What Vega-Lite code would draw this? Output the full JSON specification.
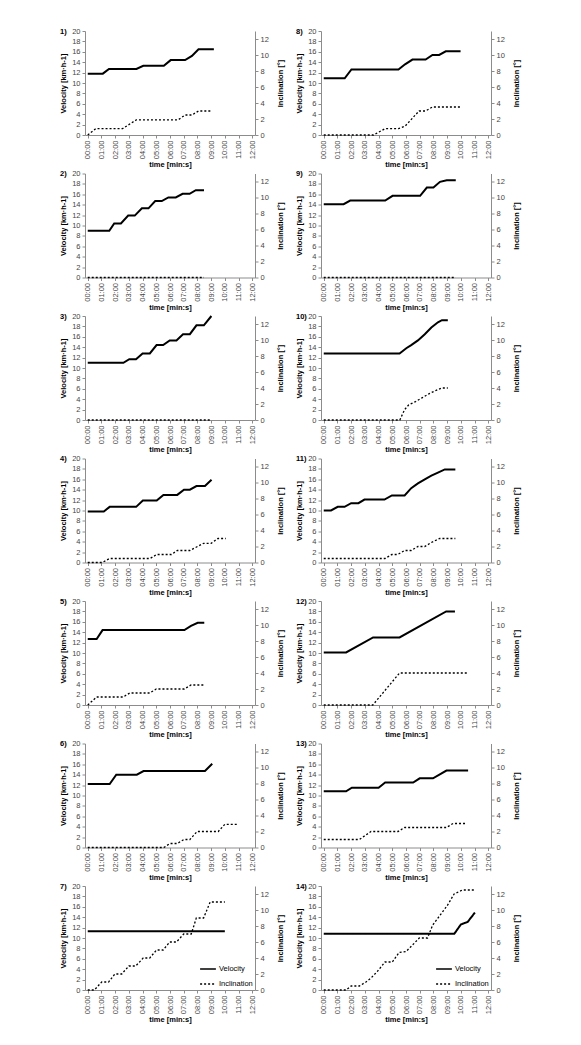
{
  "$schema": "https://vega.github.io/schema/vega-lite/v6.json",
  "background": "white",
  "padding": {"left": 59, "top": 27, "right": 5, "bottom": 5},
  "datasets": {
    "d": [
      {"p":1,"s":"v","t":0,"y":11.8},{"p":1,"s":"v","t":1.1,"y":11.8},{"p":1,"s":"v","t":1.55,"y":12.7},{"p":1,"s":"v","t":3.55,"y":12.7},{"p":1,"s":"v","t":4.05,"y":13.3},{"p":1,"s":"v","t":5.55,"y":13.3},{"p":1,"s":"v","t":6.05,"y":14.4},{"p":1,"s":"v","t":7.1,"y":14.4},{"p":1,"s":"v","t":7.6,"y":15.2},{"p":1,"s":"v","t":8.08,"y":16.5},{"p":1,"s":"v","t":9.2,"y":16.5},
      {"p":1,"s":"i","t":0,"y":0},{"p":1,"s":"i","t":0.6,"y":0.8},{"p":1,"s":"i","t":2.55,"y":0.8},{"p":1,"s":"i","t":3.55,"y":1.9},{"p":1,"s":"i","t":6.6,"y":1.9},{"p":1,"s":"i","t":7.1,"y":2.5},{"p":1,"s":"i","t":7.6,"y":2.5},{"p":1,"s":"i","t":8.08,"y":3.0},{"p":1,"s":"i","t":8.95,"y":3.0},
      {"p":2,"s":"v","t":0,"y":9.0},{"p":2,"s":"v","t":1.57,"y":9.0},{"p":2,"s":"v","t":1.93,"y":10.4},{"p":2,"s":"v","t":2.42,"y":10.4},{"p":2,"s":"v","t":2.95,"y":11.9},{"p":2,"s":"v","t":3.43,"y":11.9},{"p":2,"s":"v","t":3.95,"y":13.3},{"p":2,"s":"v","t":4.43,"y":13.3},{"p":2,"s":"v","t":4.92,"y":14.7},{"p":2,"s":"v","t":5.4,"y":14.7},{"p":2,"s":"v","t":5.88,"y":15.4},{"p":2,"s":"v","t":6.42,"y":15.4},{"p":2,"s":"v","t":6.92,"y":16.1},{"p":2,"s":"v","t":7.43,"y":16.1},{"p":2,"s":"v","t":7.88,"y":16.8},{"p":2,"s":"v","t":8.48,"y":16.8},
      {"p":2,"s":"i","t":0,"y":0},{"p":2,"s":"i","t":8.48,"y":0},
      {"p":3,"s":"v","t":0,"y":11.0},{"p":3,"s":"v","t":2.6,"y":11.0},{"p":3,"s":"v","t":3.03,"y":11.7},{"p":3,"s":"v","t":3.52,"y":11.7},{"p":3,"s":"v","t":4.0,"y":12.8},{"p":3,"s":"v","t":4.53,"y":12.8},{"p":3,"s":"v","t":5.02,"y":14.4},{"p":3,"s":"v","t":5.5,"y":14.4},{"p":3,"s":"v","t":5.98,"y":15.3},{"p":3,"s":"v","t":6.47,"y":15.3},{"p":3,"s":"v","t":6.95,"y":16.5},{"p":3,"s":"v","t":7.45,"y":16.5},{"p":3,"s":"v","t":7.93,"y":18.2},{"p":3,"s":"v","t":8.47,"y":18.2},{"p":3,"s":"v","t":9.02,"y":20},
      {"p":3,"s":"i","t":0,"y":0},{"p":3,"s":"i","t":9.0,"y":0},
      {"p":4,"s":"v","t":0,"y":9.8},{"p":4,"s":"v","t":1.17,"y":9.8},{"p":4,"s":"v","t":1.6,"y":10.7},{"p":4,"s":"v","t":3.53,"y":10.7},{"p":4,"s":"v","t":4.02,"y":11.9},{"p":4,"s":"v","t":5.03,"y":11.9},{"p":4,"s":"v","t":5.52,"y":13.0},{"p":4,"s":"v","t":6.53,"y":13.0},{"p":4,"s":"v","t":7.02,"y":14.0},{"p":4,"s":"v","t":7.45,"y":14.0},{"p":4,"s":"v","t":7.93,"y":14.7},{"p":4,"s":"v","t":8.55,"y":14.7},{"p":4,"s":"v","t":9.03,"y":15.9},
      {"p":4,"s":"i","t":0,"y":0},{"p":4,"s":"i","t":1.05,"y":0},{"p":4,"s":"i","t":1.6,"y":0.5},{"p":4,"s":"i","t":4.55,"y":0.5},{"p":4,"s":"i","t":5.03,"y":1.0},{"p":4,"s":"i","t":6.1,"y":1.0},{"p":4,"s":"i","t":6.53,"y":1.5},{"p":4,"s":"i","t":7.45,"y":1.5},{"p":4,"s":"i","t":8.45,"y":2.4},{"p":4,"s":"i","t":9.0,"y":2.4},{"p":4,"s":"i","t":9.5,"y":3.0},{"p":4,"s":"i","t":10.07,"y":3.0},
      {"p":5,"s":"v","t":0,"y":12.7},{"p":5,"s":"v","t":0.65,"y":12.7},{"p":5,"s":"v","t":1.08,"y":14.4},{"p":5,"s":"v","t":7.05,"y":14.4},{"p":5,"s":"v","t":7.53,"y":15.2},{"p":5,"s":"v","t":8.02,"y":15.8},{"p":5,"s":"v","t":8.5,"y":15.8},
      {"p":5,"s":"i","t":0,"y":0},{"p":5,"s":"i","t":0.65,"y":1.0},{"p":5,"s":"i","t":2.58,"y":1.0},{"p":5,"s":"i","t":3.07,"y":1.5},{"p":5,"s":"i","t":4.52,"y":1.5},{"p":5,"s":"i","t":5.0,"y":2.0},{"p":5,"s":"i","t":7.05,"y":2.0},{"p":5,"s":"i","t":7.53,"y":2.5},{"p":5,"s":"i","t":8.5,"y":2.5},
      {"p":6,"s":"v","t":0,"y":12.2},{"p":6,"s":"v","t":1.6,"y":12.2},{"p":6,"s":"v","t":2.08,"y":14.0},{"p":6,"s":"v","t":3.58,"y":14.0},{"p":6,"s":"v","t":4.07,"y":14.7},{"p":6,"s":"v","t":8.55,"y":14.7},{"p":6,"s":"v","t":9.08,"y":16.1},
      {"p":6,"s":"i","t":0,"y":0},{"p":6,"s":"i","t":5.55,"y":0},{"p":6,"s":"i","t":6.0,"y":0.5},{"p":6,"s":"i","t":6.53,"y":0.5},{"p":6,"s":"i","t":7.02,"y":1.0},{"p":6,"s":"i","t":7.45,"y":1.0},{"p":6,"s":"i","t":7.98,"y":2.0},{"p":6,"s":"i","t":9.52,"y":2.0},{"p":6,"s":"i","t":10.0,"y":2.9},{"p":6,"s":"i","t":10.97,"y":2.9},
      {"p":7,"s":"v","t":0,"y":11.3},{"p":7,"s":"v","t":10.0,"y":11.3},
      {"p":7,"s":"i","t":0,"y":0},{"p":7,"s":"i","t":0.48,"y":0},{"p":7,"s":"i","t":1.02,"y":1.0},{"p":7,"s":"i","t":1.52,"y":1.0},{"p":7,"s":"i","t":1.98,"y":2.0},{"p":7,"s":"i","t":2.48,"y":2.0},{"p":7,"s":"i","t":3.0,"y":3.0},{"p":7,"s":"i","t":3.5,"y":3.0},{"p":7,"s":"i","t":4.05,"y":4.0},{"p":7,"s":"i","t":4.52,"y":4.0},{"p":7,"s":"i","t":5.02,"y":5.0},{"p":7,"s":"i","t":5.5,"y":5.0},{"p":7,"s":"i","t":5.98,"y":6.0},{"p":7,"s":"i","t":6.47,"y":6.0},{"p":7,"s":"i","t":7.0,"y":7.0},{"p":7,"s":"i","t":7.55,"y":7.0},{"p":7,"s":"i","t":7.92,"y":9.0},{"p":7,"s":"i","t":8.45,"y":9.0},{"p":7,"s":"i","t":8.93,"y":11.0},{"p":7,"s":"i","t":10.0,"y":11.0},
      {"p":8,"s":"v","t":0,"y":10.9},{"p":8,"s":"v","t":1.53,"y":10.9},{"p":8,"s":"v","t":2.02,"y":12.6},{"p":8,"s":"v","t":5.45,"y":12.6},{"p":8,"s":"v","t":5.93,"y":13.6},{"p":8,"s":"v","t":6.47,"y":14.5},{"p":8,"s":"v","t":7.43,"y":14.5},{"p":8,"s":"v","t":7.93,"y":15.4},{"p":8,"s":"v","t":8.42,"y":15.4},{"p":8,"s":"v","t":8.9,"y":16.1},{"p":8,"s":"v","t":9.98,"y":16.1},
      {"p":8,"s":"i","t":0,"y":0},{"p":8,"s":"i","t":3.63,"y":0},{"p":8,"s":"i","t":4.48,"y":0.8},{"p":8,"s":"i","t":5.45,"y":0.8},{"p":8,"s":"i","t":5.93,"y":1.1},{"p":8,"s":"i","t":6.95,"y":3.0},{"p":8,"s":"i","t":7.43,"y":3.0},{"p":8,"s":"i","t":7.93,"y":3.5},{"p":8,"s":"i","t":9.98,"y":3.5},
      {"p":9,"s":"v","t":0,"y":14.1},{"p":9,"s":"v","t":1.45,"y":14.1},{"p":9,"s":"v","t":1.93,"y":14.8},{"p":9,"s":"v","t":4.48,"y":14.8},{"p":9,"s":"v","t":5.02,"y":15.7},{"p":9,"s":"v","t":7.03,"y":15.7},{"p":9,"s":"v","t":7.52,"y":17.3},{"p":9,"s":"v","t":8.0,"y":17.3},{"p":9,"s":"v","t":8.48,"y":18.4},{"p":9,"s":"v","t":8.97,"y":18.7},{"p":9,"s":"v","t":9.63,"y":18.7},
      {"p":9,"s":"i","t":0,"y":0},{"p":9,"s":"i","t":9.63,"y":0},
      {"p":10,"s":"v","t":0,"y":12.8},{"p":10,"s":"v","t":5.53,"y":12.8},{"p":10,"s":"v","t":6.02,"y":13.8},{"p":10,"s":"v","t":6.38,"y":14.4},{"p":10,"s":"v","t":6.87,"y":15.3},{"p":10,"s":"v","t":7.37,"y":16.5},{"p":10,"s":"v","t":7.85,"y":17.8},{"p":10,"s":"v","t":8.33,"y":18.8},{"p":10,"s":"v","t":8.62,"y":19.2},{"p":10,"s":"v","t":9.05,"y":19.2},
      {"p":10,"s":"i","t":0,"y":0},{"p":10,"s":"i","t":5.55,"y":0},{"p":10,"s":"i","t":5.9,"y":1.3},{"p":10,"s":"i","t":6.2,"y":1.9},{"p":10,"s":"i","t":6.7,"y":2.3},{"p":10,"s":"i","t":7.2,"y":2.8},{"p":10,"s":"i","t":7.7,"y":3.3},{"p":10,"s":"i","t":8.2,"y":3.7},{"p":10,"s":"i","t":8.62,"y":4.0},{"p":10,"s":"i","t":9.05,"y":4.0},
      {"p":11,"s":"v","t":0,"y":10.0},{"p":11,"s":"v","t":0.53,"y":10.0},{"p":11,"s":"v","t":1.02,"y":10.7},{"p":11,"s":"v","t":1.52,"y":10.7},{"p":11,"s":"v","t":2.0,"y":11.4},{"p":11,"s":"v","t":2.53,"y":11.4},{"p":11,"s":"v","t":2.97,"y":12.1},{"p":11,"s":"v","t":4.43,"y":12.1},{"p":11,"s":"v","t":4.97,"y":12.9},{"p":11,"s":"v","t":5.9,"y":12.9},{"p":11,"s":"v","t":6.38,"y":14.3},{"p":11,"s":"v","t":6.87,"y":15.2},{"p":11,"s":"v","t":7.37,"y":16.0},{"p":11,"s":"v","t":7.85,"y":16.7},{"p":11,"s":"v","t":8.33,"y":17.3},{"p":11,"s":"v","t":8.83,"y":17.9},{"p":11,"s":"v","t":9.6,"y":17.9},
      {"p":11,"s":"i","t":0,"y":0.5},{"p":11,"s":"i","t":4.47,"y":0.5},{"p":11,"s":"i","t":4.97,"y":1.0},{"p":11,"s":"i","t":5.4,"y":1.0},{"p":11,"s":"i","t":5.9,"y":1.5},{"p":11,"s":"i","t":6.38,"y":1.5},{"p":11,"s":"i","t":6.87,"y":2.0},{"p":11,"s":"i","t":7.37,"y":2.0},{"p":11,"s":"i","t":7.85,"y":2.5},{"p":11,"s":"i","t":8.45,"y":3.0},{"p":11,"s":"i","t":9.6,"y":3.0},
      {"p":12,"s":"v","t":0,"y":10.1},{"p":12,"s":"v","t":1.63,"y":10.1},{"p":12,"s":"v","t":3.6,"y":13.0},{"p":12,"s":"v","t":5.53,"y":13.0},{"p":12,"s":"v","t":8.93,"y":18.0},{"p":12,"s":"v","t":9.57,"y":18.0},
      {"p":12,"s":"i","t":0,"y":0},{"p":12,"s":"i","t":3.58,"y":0},{"p":12,"s":"i","t":5.53,"y":4.0},{"p":12,"s":"i","t":10.53,"y":4.0},
      {"p":13,"s":"v","t":0,"y":10.8},{"p":13,"s":"v","t":1.63,"y":10.8},{"p":13,"s":"v","t":2.05,"y":11.5},{"p":13,"s":"v","t":4.0,"y":11.5},{"p":13,"s":"v","t":4.48,"y":12.5},{"p":13,"s":"v","t":6.52,"y":12.5},{"p":13,"s":"v","t":7.0,"y":13.3},{"p":13,"s":"v","t":7.97,"y":13.3},{"p":13,"s":"v","t":8.95,"y":14.8},{"p":13,"s":"v","t":10.53,"y":14.8},
      {"p":13,"s":"i","t":0,"y":1.0},{"p":13,"s":"i","t":2.6,"y":1.0},{"p":13,"s":"i","t":3.45,"y":2.0},{"p":13,"s":"i","t":5.42,"y":2.0},{"p":13,"s":"i","t":5.9,"y":2.5},{"p":13,"s":"i","t":8.95,"y":2.5},{"p":13,"s":"i","t":9.43,"y":3.0},{"p":13,"s":"i","t":10.42,"y":3.0},
      {"p":14,"s":"v","t":0,"y":10.8},{"p":14,"s":"v","t":9.52,"y":10.8},{"p":14,"s":"v","t":10.0,"y":12.6},{"p":14,"s":"v","t":10.3,"y":12.9},{"p":14,"s":"v","t":10.5,"y":13.1},{"p":14,"s":"v","t":11.03,"y":14.9},
      {"p":14,"s":"i","t":0,"y":0},{"p":14,"s":"i","t":1.63,"y":0},{"p":14,"s":"i","t":2.0,"y":0.5},{"p":14,"s":"i","t":2.6,"y":0.5},{"p":14,"s":"i","t":3.08,"y":1.0},{"p":14,"s":"i","t":3.45,"y":1.5},{"p":14,"s":"i","t":3.9,"y":2.3},{"p":14,"s":"i","t":4.47,"y":3.5},{"p":14,"s":"i","t":5.0,"y":3.5},{"p":14,"s":"i","t":5.5,"y":4.7},{"p":14,"s":"i","t":6.0,"y":4.8},{"p":14,"s":"i","t":6.35,"y":5.4},{"p":14,"s":"i","t":6.97,"y":6.5},{"p":14,"s":"i","t":7.57,"y":6.5},{"p":14,"s":"i","t":7.94,"y":8.1},{"p":14,"s":"i","t":8.42,"y":9.2},{"p":14,"s":"i","t":9.03,"y":10.6},{"p":14,"s":"i","t":9.51,"y":12.0},{"p":14,"s":"i","t":10.12,"y":12.5},{"p":14,"s":"i","t":11.0,"y":12.5}
    ]
  },
  "columns": 2,
  "spacing": {"row": 38.5, "column": 66},
  "bounds": "flush",
  "resolve": {"scale": {"strokeDash": "independent"}, "legend": {"strokeDash": "independent"}},
  "concat": [
    {"title": "1)", "data": {"name": "d"}, "transform": [{"filter": "datum.p==1"}], "width": 170, "height": 104,
     "encoding": {"x": {"field": "t", "type": "quantitative", "scale": {"domain": [-0.2, 12.2], "nice": false, "zero": false}, "axis": {"values": [0,1,2,3,4,5,6,7,8,9,10,11,12], "labelOverlap": false, "labelAngle": 270, "labelExpr": "(datum.value<10?'0':'')+datum.value+':00'", "title": "time [min:s]"}}},
     "layer": [
      {"transform": [{"filter": "datum.s=='v'"}], "mark": {"type": "line", "color": "black", "strokeWidth": 2},
       "encoding": {"y": {"field": "y", "type": "quantitative", "scale": {"domain": [0, 20], "nice": false}, "axis": {"values": [0,2,4,6,8,10,12,14,16,18,20], "labelOverlap": false, "title": "Velocity [km·h-1]"}}}},
      {"transform": [{"filter": "datum.s=='i'"}], "mark": {"type": "line", "color": "black", "strokeWidth": 1.3, "strokeDash": [2, 2]},
       "encoding": {"y": {"field": "y", "type": "quantitative", "scale": {"domain": [0, 13], "nice": false}, "axis": {"orient": "right", "values": [0,2,4,6,8,10,12], "title": "Inclination [°]"}}}}
     ], "resolve": {"scale": {"y": "independent"}}},
    {"title": "8)", "data": {"name": "d"}, "transform": [{"filter": "datum.p==8"}], "width": 170, "height": 104,
     "encoding": {"x": {"field": "t", "type": "quantitative", "scale": {"domain": [-0.2, 12.2], "nice": false, "zero": false}, "axis": {"values": [0,1,2,3,4,5,6,7,8,9,10,11,12], "labelOverlap": false, "labelAngle": 270, "labelExpr": "(datum.value<10?'0':'')+datum.value+':00'", "title": "time [min:s]"}}},
     "layer": [
      {"transform": [{"filter": "datum.s=='v'"}], "mark": {"type": "line", "color": "black", "strokeWidth": 2},
       "encoding": {"y": {"field": "y", "type": "quantitative", "scale": {"domain": [0, 20], "nice": false}, "axis": {"values": [0,2,4,6,8,10,12,14,16,18,20], "labelOverlap": false, "title": "Velocity [km·h-1]"}}}},
      {"transform": [{"filter": "datum.s=='i'"}], "mark": {"type": "line", "color": "black", "strokeWidth": 1.3, "strokeDash": [2, 2]},
       "encoding": {"y": {"field": "y", "type": "quantitative", "scale": {"domain": [0, 13], "nice": false}, "axis": {"orient": "right", "values": [0,2,4,6,8,10,12], "title": "Inclination [°]"}}}}
     ], "resolve": {"scale": {"y": "independent"}}},
    {"title": "2)", "data": {"name": "d"}, "transform": [{"filter": "datum.p==2"}], "width": 170, "height": 104,
     "encoding": {"x": {"field": "t", "type": "quantitative", "scale": {"domain": [-0.2, 12.2], "nice": false, "zero": false}, "axis": {"values": [0,1,2,3,4,5,6,7,8,9,10,11,12], "labelOverlap": false, "labelAngle": 270, "labelExpr": "(datum.value<10?'0':'')+datum.value+':00'", "title": "time [min:s]"}}},
     "layer": [
      {"transform": [{"filter": "datum.s=='v'"}], "mark": {"type": "line", "color": "black", "strokeWidth": 2},
       "encoding": {"y": {"field": "y", "type": "quantitative", "scale": {"domain": [0, 20], "nice": false}, "axis": {"values": [0,2,4,6,8,10,12,14,16,18,20], "labelOverlap": false, "title": "Velocity [km·h-1]"}}}},
      {"transform": [{"filter": "datum.s=='i'"}], "mark": {"type": "line", "color": "black", "strokeWidth": 1.3, "strokeDash": [2, 2]},
       "encoding": {"y": {"field": "y", "type": "quantitative", "scale": {"domain": [0, 13], "nice": false}, "axis": {"orient": "right", "values": [0,2,4,6,8,10,12], "title": "Inclination [°]"}}}}
     ], "resolve": {"scale": {"y": "independent"}}},
    {"title": "9)", "data": {"name": "d"}, "transform": [{"filter": "datum.p==9"}], "width": 170, "height": 104,
     "encoding": {"x": {"field": "t", "type": "quantitative", "scale": {"domain": [-0.2, 12.2], "nice": false, "zero": false}, "axis": {"values": [0,1,2,3,4,5,6,7,8,9,10,11,12], "labelOverlap": false, "labelAngle": 270, "labelExpr": "(datum.value<10?'0':'')+datum.value+':00'", "title": "time [min:s]"}}},
     "layer": [
      {"transform": [{"filter": "datum.s=='v'"}], "mark": {"type": "line", "color": "black", "strokeWidth": 2},
       "encoding": {"y": {"field": "y", "type": "quantitative", "scale": {"domain": [0, 20], "nice": false}, "axis": {"values": [0,2,4,6,8,10,12,14,16,18,20], "labelOverlap": false, "title": "Velocity [km·h-1]"}}}},
      {"transform": [{"filter": "datum.s=='i'"}], "mark": {"type": "line", "color": "black", "strokeWidth": 1.3, "strokeDash": [2, 2]},
       "encoding": {"y": {"field": "y", "type": "quantitative", "scale": {"domain": [0, 13], "nice": false}, "axis": {"orient": "right", "values": [0,2,4,6,8,10,12], "title": "Inclination [°]"}}}}
     ], "resolve": {"scale": {"y": "independent"}}},
    {"title": "3)", "data": {"name": "d"}, "transform": [{"filter": "datum.p==3"}], "width": 170, "height": 104,
     "encoding": {"x": {"field": "t", "type": "quantitative", "scale": {"domain": [-0.2, 12.2], "nice": false, "zero": false}, "axis": {"values": [0,1,2,3,4,5,6,7,8,9,10,11,12], "labelOverlap": false, "labelAngle": 270, "labelExpr": "(datum.value<10?'0':'')+datum.value+':00'", "title": "time [min:s]"}}},
     "layer": [
      {"transform": [{"filter": "datum.s=='v'"}], "mark": {"type": "line", "color": "black", "strokeWidth": 2},
       "encoding": {"y": {"field": "y", "type": "quantitative", "scale": {"domain": [0, 20], "nice": false}, "axis": {"values": [0,2,4,6,8,10,12,14,16,18,20], "labelOverlap": false, "title": "Velocity [km·h-1]"}}}},
      {"transform": [{"filter": "datum.s=='i'"}], "mark": {"type": "line", "color": "black", "strokeWidth": 1.3, "strokeDash": [2, 2]},
       "encoding": {"y": {"field": "y", "type": "quantitative", "scale": {"domain": [0, 13], "nice": false}, "axis": {"orient": "right", "values": [0,2,4,6,8,10,12], "title": "Inclination [°]"}}}}
     ], "resolve": {"scale": {"y": "independent"}}},
    {"title": "10)", "data": {"name": "d"}, "transform": [{"filter": "datum.p==10"}], "width": 170, "height": 104,
     "encoding": {"x": {"field": "t", "type": "quantitative", "scale": {"domain": [-0.2, 12.2], "nice": false, "zero": false}, "axis": {"values": [0,1,2,3,4,5,6,7,8,9,10,11,12], "labelOverlap": false, "labelAngle": 270, "labelExpr": "(datum.value<10?'0':'')+datum.value+':00'", "title": "time [min:s]"}}},
     "layer": [
      {"transform": [{"filter": "datum.s=='v'"}], "mark": {"type": "line", "color": "black", "strokeWidth": 2},
       "encoding": {"y": {"field": "y", "type": "quantitative", "scale": {"domain": [0, 20], "nice": false}, "axis": {"values": [0,2,4,6,8,10,12,14,16,18,20], "labelOverlap": false, "title": "Velocity [km·h-1]"}}}},
      {"transform": [{"filter": "datum.s=='i'"}], "mark": {"type": "line", "color": "black", "strokeWidth": 1.3, "strokeDash": [2, 2]},
       "encoding": {"y": {"field": "y", "type": "quantitative", "scale": {"domain": [0, 13], "nice": false}, "axis": {"orient": "right", "values": [0,2,4,6,8,10,12], "title": "Inclination [°]"}}}}
     ], "resolve": {"scale": {"y": "independent"}}},
    {"title": "4)", "data": {"name": "d"}, "transform": [{"filter": "datum.p==4"}], "width": 170, "height": 104,
     "encoding": {"x": {"field": "t", "type": "quantitative", "scale": {"domain": [-0.2, 12.2], "nice": false, "zero": false}, "axis": {"values": [0,1,2,3,4,5,6,7,8,9,10,11,12], "labelOverlap": false, "labelAngle": 270, "labelExpr": "(datum.value<10?'0':'')+datum.value+':00'", "title": "time [min:s]"}}},
     "layer": [
      {"transform": [{"filter": "datum.s=='v'"}], "mark": {"type": "line", "color": "black", "strokeWidth": 2},
       "encoding": {"y": {"field": "y", "type": "quantitative", "scale": {"domain": [0, 20], "nice": false}, "axis": {"values": [0,2,4,6,8,10,12,14,16,18,20], "labelOverlap": false, "title": "Velocity [km·h-1]"}}}},
      {"transform": [{"filter": "datum.s=='i'"}], "mark": {"type": "line", "color": "black", "strokeWidth": 1.3, "strokeDash": [2, 2]},
       "encoding": {"y": {"field": "y", "type": "quantitative", "scale": {"domain": [0, 13], "nice": false}, "axis": {"orient": "right", "values": [0,2,4,6,8,10,12], "title": "Inclination [°]"}}}}
     ], "resolve": {"scale": {"y": "independent"}}},
    {"title": "11)", "data": {"name": "d"}, "transform": [{"filter": "datum.p==11"}], "width": 170, "height": 104,
     "encoding": {"x": {"field": "t", "type": "quantitative", "scale": {"domain": [-0.2, 12.2], "nice": false, "zero": false}, "axis": {"values": [0,1,2,3,4,5,6,7,8,9,10,11,12], "labelOverlap": false, "labelAngle": 270, "labelExpr": "(datum.value<10?'0':'')+datum.value+':00'", "title": "time [min:s]"}}},
     "layer": [
      {"transform": [{"filter": "datum.s=='v'"}], "mark": {"type": "line", "color": "black", "strokeWidth": 2},
       "encoding": {"y": {"field": "y", "type": "quantitative", "scale": {"domain": [0, 20], "nice": false}, "axis": {"values": [0,2,4,6,8,10,12,14,16,18,20], "labelOverlap": false, "title": "Velocity [km·h-1]"}}}},
      {"transform": [{"filter": "datum.s=='i'"}], "mark": {"type": "line", "color": "black", "strokeWidth": 1.3, "strokeDash": [2, 2]},
       "encoding": {"y": {"field": "y", "type": "quantitative", "scale": {"domain": [0, 13], "nice": false}, "axis": {"orient": "right", "values": [0,2,4,6,8,10,12], "title": "Inclination [°]"}}}}
     ], "resolve": {"scale": {"y": "independent"}}},
    {"title": "5)", "data": {"name": "d"}, "transform": [{"filter": "datum.p==5"}], "width": 170, "height": 104,
     "encoding": {"x": {"field": "t", "type": "quantitative", "scale": {"domain": [-0.2, 12.2], "nice": false, "zero": false}, "axis": {"values": [0,1,2,3,4,5,6,7,8,9,10,11,12], "labelOverlap": false, "labelAngle": 270, "labelExpr": "(datum.value<10?'0':'')+datum.value+':00'", "title": "time [min:s]"}}},
     "layer": [
      {"transform": [{"filter": "datum.s=='v'"}], "mark": {"type": "line", "color": "black", "strokeWidth": 2},
       "encoding": {"y": {"field": "y", "type": "quantitative", "scale": {"domain": [0, 20], "nice": false}, "axis": {"values": [0,2,4,6,8,10,12,14,16,18,20], "labelOverlap": false, "title": "Velocity [km·h-1]"}}}},
      {"transform": [{"filter": "datum.s=='i'"}], "mark": {"type": "line", "color": "black", "strokeWidth": 1.3, "strokeDash": [2, 2]},
       "encoding": {"y": {"field": "y", "type": "quantitative", "scale": {"domain": [0, 13], "nice": false}, "axis": {"orient": "right", "values": [0,2,4,6,8,10,12], "title": "Inclination [°]"}}}}
     ], "resolve": {"scale": {"y": "independent"}}},
    {"title": "12)", "data": {"name": "d"}, "transform": [{"filter": "datum.p==12"}], "width": 170, "height": 104,
     "encoding": {"x": {"field": "t", "type": "quantitative", "scale": {"domain": [-0.2, 12.2], "nice": false, "zero": false}, "axis": {"values": [0,1,2,3,4,5,6,7,8,9,10,11,12], "labelOverlap": false, "labelAngle": 270, "labelExpr": "(datum.value<10?'0':'')+datum.value+':00'", "title": "time [min:s]"}}},
     "layer": [
      {"transform": [{"filter": "datum.s=='v'"}], "mark": {"type": "line", "color": "black", "strokeWidth": 2},
       "encoding": {"y": {"field": "y", "type": "quantitative", "scale": {"domain": [0, 20], "nice": false}, "axis": {"values": [0,2,4,6,8,10,12,14,16,18,20], "labelOverlap": false, "title": "Velocity [km·h-1]"}}}},
      {"transform": [{"filter": "datum.s=='i'"}], "mark": {"type": "line", "color": "black", "strokeWidth": 1.3, "strokeDash": [2, 2]},
       "encoding": {"y": {"field": "y", "type": "quantitative", "scale": {"domain": [0, 13], "nice": false}, "axis": {"orient": "right", "values": [0,2,4,6,8,10,12], "title": "Inclination [°]"}}}}
     ], "resolve": {"scale": {"y": "independent"}}},
    {"title": "6)", "data": {"name": "d"}, "transform": [{"filter": "datum.p==6"}], "width": 170, "height": 104,
     "encoding": {"x": {"field": "t", "type": "quantitative", "scale": {"domain": [-0.2, 12.2], "nice": false, "zero": false}, "axis": {"values": [0,1,2,3,4,5,6,7,8,9,10,11,12], "labelOverlap": false, "labelAngle": 270, "labelExpr": "(datum.value<10?'0':'')+datum.value+':00'", "title": "time [min:s]"}}},
     "layer": [
      {"transform": [{"filter": "datum.s=='v'"}], "mark": {"type": "line", "color": "black", "strokeWidth": 2},
       "encoding": {"y": {"field": "y", "type": "quantitative", "scale": {"domain": [0, 20], "nice": false}, "axis": {"values": [0,2,4,6,8,10,12,14,16,18,20], "labelOverlap": false, "title": "Velocity [km·h-1]"}}}},
      {"transform": [{"filter": "datum.s=='i'"}], "mark": {"type": "line", "color": "black", "strokeWidth": 1.3, "strokeDash": [2, 2]},
       "encoding": {"y": {"field": "y", "type": "quantitative", "scale": {"domain": [0, 13], "nice": false}, "axis": {"orient": "right", "values": [0,2,4,6,8,10,12], "title": "Inclination [°]"}}}}
     ], "resolve": {"scale": {"y": "independent"}}},
    {"title": "13)", "data": {"name": "d"}, "transform": [{"filter": "datum.p==13"}], "width": 170, "height": 104,
     "encoding": {"x": {"field": "t", "type": "quantitative", "scale": {"domain": [-0.2, 12.2], "nice": false, "zero": false}, "axis": {"values": [0,1,2,3,4,5,6,7,8,9,10,11,12], "labelOverlap": false, "labelAngle": 270, "labelExpr": "(datum.value<10?'0':'')+datum.value+':00'", "title": "time [min:s]"}}},
     "layer": [
      {"transform": [{"filter": "datum.s=='v'"}], "mark": {"type": "line", "color": "black", "strokeWidth": 2},
       "encoding": {"y": {"field": "y", "type": "quantitative", "scale": {"domain": [0, 20], "nice": false}, "axis": {"values": [0,2,4,6,8,10,12,14,16,18,20], "labelOverlap": false, "title": "Velocity [km·h-1]"}}}},
      {"transform": [{"filter": "datum.s=='i'"}], "mark": {"type": "line", "color": "black", "strokeWidth": 1.3, "strokeDash": [2, 2]},
       "encoding": {"y": {"field": "y", "type": "quantitative", "scale": {"domain": [0, 13], "nice": false}, "axis": {"orient": "right", "values": [0,2,4,6,8,10,12], "title": "Inclination [°]"}}}}
     ], "resolve": {"scale": {"y": "independent"}}},
    {"title": "7)", "data": {"name": "d"}, "transform": [{"filter": "datum.p==7"}], "width": 170, "height": 104,
     "encoding": {"x": {"field": "t", "type": "quantitative", "scale": {"domain": [-0.2, 12.2], "nice": false, "zero": false}, "axis": {"values": [0,1,2,3,4,5,6,7,8,9,10,11,12], "labelOverlap": false, "labelAngle": 270, "labelExpr": "(datum.value<10?'0':'')+datum.value+':00'", "title": "time [min:s]"}}},
     "layer": [
      {"transform": [{"filter": "datum.s=='v'"}], "mark": {"type": "line", "color": "black", "strokeWidth": 2},
       "encoding": {"y": {"field": "y", "type": "quantitative", "scale": {"domain": [0, 20], "nice": false}, "axis": {"values": [0,2,4,6,8,10,12,14,16,18,20], "labelOverlap": false, "title": "Velocity [km·h-1]"}},
        "strokeDash": {"datum": "Velocity", "type": "nominal", "scale": {"domain": ["Velocity", "Inclination"], "range": [[1, 0], [2, 2]]}, "legend": {"title": null, "orient": "bottom-right"}}}},
      {"transform": [{"filter": "datum.s=='i'"}], "mark": {"type": "line", "color": "black", "strokeWidth": 1.3},
       "encoding": {"y": {"field": "y", "type": "quantitative", "scale": {"domain": [0, 13], "nice": false}, "axis": {"orient": "right", "values": [0,2,4,6,8,10,12], "title": "Inclination [°]"}},
        "strokeDash": {"datum": "Inclination", "type": "nominal"}}}
     ], "resolve": {"scale": {"y": "independent"}}},
    {"title": "14)", "data": {"name": "d"}, "transform": [{"filter": "datum.p==14"}], "width": 170, "height": 104,
     "encoding": {"x": {"field": "t", "type": "quantitative", "scale": {"domain": [-0.2, 12.2], "nice": false, "zero": false}, "axis": {"values": [0,1,2,3,4,5,6,7,8,9,10,11,12], "labelOverlap": false, "labelAngle": 270, "labelExpr": "(datum.value<10?'0':'')+datum.value+':00'", "title": "time [min:s]"}}},
     "layer": [
      {"transform": [{"filter": "datum.s=='v'"}], "mark": {"type": "line", "color": "black", "strokeWidth": 2},
       "encoding": {"y": {"field": "y", "type": "quantitative", "scale": {"domain": [0, 20], "nice": false}, "axis": {"values": [0,2,4,6,8,10,12,14,16,18,20], "labelOverlap": false, "title": "Velocity [km·h-1]"}},
        "strokeDash": {"datum": "Velocity", "type": "nominal", "scale": {"domain": ["Velocity", "Inclination"], "range": [[1, 0], [2, 2]]}, "legend": {"title": null, "orient": "bottom-right"}}}},
      {"transform": [{"filter": "datum.s=='i'"}], "mark": {"type": "line", "color": "black", "strokeWidth": 1.3},
       "encoding": {"y": {"field": "y", "type": "quantitative", "scale": {"domain": [0, 13], "nice": false}, "axis": {"orient": "right", "values": [0,2,4,6,8,10,12], "title": "Inclination [°]"}},
        "strokeDash": {"datum": "Inclination", "type": "nominal"}}}
     ], "resolve": {"scale": {"y": "independent"}}}
  ],
  "config": {
    "font": "Liberation Sans",
    "view": {"stroke": null},
    "title": {"anchor": "start", "frame": "group", "align": "left", "baseline": "middle", "offset": 0, "dx": -25, "dy": 12, "fontSize": 7.5, "fontWeight": "bold", "color": "black"},
    "axis": {"grid": false, "domainColor": "#8c8c8c", "tickColor": "#8c8c8c", "tickSize": 3, "labelFontSize": 7.5, "labelColor": "#444444", "titleFontSize": 7.5, "titleFontWeight": "bold", "titleColor": "black", "labelPadding": 2},
    "axisX": {"titlePadding": 2, "labelOverlap": false},
    "axisY": {"titlePadding": 4},
    "axisRight": {"titleAngle": 270, "titleBaseline": "top", "titlePadding": 8},
    "legend": {"labelFontSize": 7.5, "labelColor": "black", "symbolType": "stroke", "symbolSize": 250, "symbolStrokeColor": "black", "symbolStrokeWidth": 1.5, "rowPadding": 2, "offset": 2, "padding": 0, "labelOffset": 2}
  }
}
